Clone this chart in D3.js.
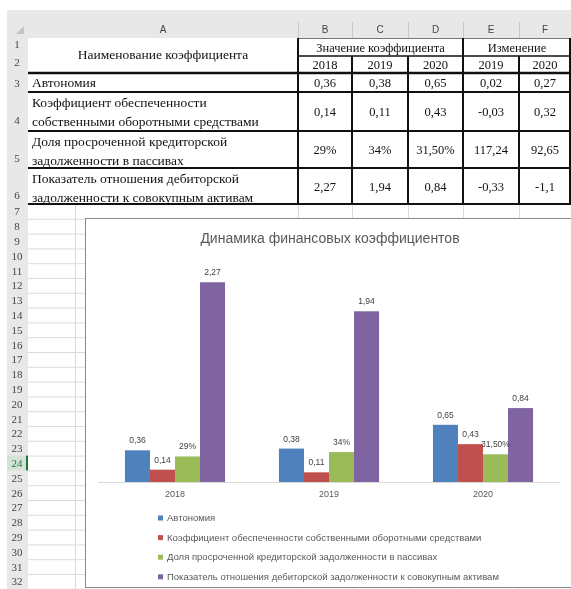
<!DOCTYPE html>
<html><head><meta charset="utf-8">
<script src="https://cdn.jsdelivr.net/npm/d3@7"></script>
<style>html,body{margin:0;padding:0;background:#fff;}svg{display:block;filter:blur(0.4px);}</style>
</head><body>
<svg id="c" width="571" height="589"></svg>
<script>
// ---------- data ----------
const years = ["2018", "2019", "2020"];
const changeYears = ["2019", "2020"];
const seriesNames = [
  "Автономия",
  "Коэффициент обеспеченности собственными оборотными средствами",
  "Доля просроченной кредиторской задолженности в пассивах",
  "Показатель отношения дебиторской задолженности к совокупным активам"
];
const tableNameLines = [
  ["Автономия"],
  ["Коэффициент обеспеченности", "собственными оборотными средствами"],
  ["Доля просроченной кредиторской", "задолженности в пассивах"],
  ["Показатель отношения дебиторской", "задолженности к совокупным активам"]
];
const autonomy = [0.36, 0.38, 0.65];
const ownWorkingCapital = [0.14, 0.11, 0.43];
const overduePayables = [0.29, 0.34, 0.315];
const receivablesToAssets = [2.27, 1.94, 0.84];
const autonomyLabels = ["0,36", "0,38", "0,65"];
const ownWorkingCapitalLabels = ["0,14", "0,11", "0,43"];
const overduePayablesLabels = ["29%", "34%", "31,50%"];
const receivablesToAssetsLabels = ["2,27", "1,94", "0,84"];
const autonomyChange = ["0,02", "0,27"];
const ownWorkingCapitalChange = ["-0,03", "0,32"];
const overduePayablesChange = ["117,24", "92,65"];
const receivablesToAssetsChange = ["-0,33", "-1,1"];
const columnLetters = ["A", "B", "C", "D", "E", "F"];
const chartTitle = "Динамика финансовых коэффициентов";
const tableHeader = "Наименование коэффициента";
const valueHeader = "Значение коэффициента";
const changeHeader = "Изменение";
const colors = ["#4F81BD", "#C0504D", "#9BBB59", "#8064A2"];

const seriesValues = [autonomy, ownWorkingCapital, overduePayables, receivablesToAssets];
const seriesLabels = [autonomyLabels, ownWorkingCapitalLabels, overduePayablesLabels, receivablesToAssetsLabels];
const seriesChanges = [autonomyChange, ownWorkingCapitalChange, overduePayablesChange, receivablesToAssetsChange];

// ---------- layout ----------
const svg = d3.select("#c");
const W = 571, H = 589;
const colX = [28, 298, 352, 408, 463, 519, 571];
const rowY = [38, 56, 73, 92, 131, 168, 204];
const rowH = 14.8;
const serif = "'Liberation Serif','Times New Roman',serif";
const sans = "'Liberation Sans',Arial,sans-serif";

svg.append("rect").attr("width", W).attr("height", H).attr("fill", "#fff");

// faint sheet gridlines for rows 7..32
const g0 = svg.append("g").attr("stroke", "#dcdcdc").attr("stroke-width", 1);
for (let i = 0; i <= 26; i++) {
  const yy = rowY[6] + i * rowH;
  g0.append("line").attr("x1", 28).attr("x2", W).attr("y1", yy + 0.5).attr("y2", yy + 0.5);
}
colX.slice(1, 6).forEach(x => g0.append("line").attr("x1", x + 0.5).attr("x2", x + 0.5).attr("y1", rowY[6]).attr("y2", H));
g0.append("line").attr("x1", 75.5).attr("x2", 75.5).attr("y1", rowY[6]).attr("y2", H);

// column header band
svg.append("rect").attr("x", 7).attr("y", 10).attr("width", W - 7).attr("height", 28).attr("fill", "#e8e8e8");
svg.append("rect").attr("x", 7).attr("y", 10).attr("width", 21).attr("height", H - 10).attr("fill", "#e8e8e8");
const hdr = svg.append("g");
colX.slice(0, 6).forEach((x, i) => {
  hdr.append("text").attr("x", (x + colX[i + 1]) / 2).attr("y", 33)
    .attr("text-anchor", "middle").attr("font-family", sans).attr("font-size", 10).attr("fill", "#444")
    .text(columnLetters[i]);
  if (i > 0) hdr.append("line").attr("x1", x + 0.5).attr("x2", x + 0.5).attr("y1", 22).attr("y2", 38).attr("stroke", "#c8c8c8");
});
svg.append("path").attr("d", "M24,34 L24,26 L16,34 Z").attr("fill", "#c4c4c4");

// row numbers
const rowNumY = [48, 66, 87, 124, 162, 199];
rowNumY.forEach((yy, i) => {
  svg.append("text").attr("x", 17).attr("y", yy).attr("text-anchor", "middle")
    .attr("font-family", serif).attr("font-size", 11).attr("fill", "#444").text(i + 1);
});
for (let r = 7; r <= 32; r++) {
  const top = rowY[6] + (r - 7) * rowH;
  if (r === 24) {
    svg.append("rect").attr("x", 7).attr("y", top).attr("width", 21).attr("height", rowH).attr("fill", "#d2e3d6");
    svg.append("rect").attr("x", 26).attr("y", top).attr("width", 2).attr("height", rowH).attr("fill", "#217346");
  }
  svg.append("text").attr("x", 17).attr("y", top + rowH / 2 + 4).attr("text-anchor", "middle")
    .attr("font-family", serif).attr("font-size", 11).attr("fill", r === 24 ? "#217346" : "#444").text(r);
}

// ---------- table ----------
const t = svg.append("g").attr("font-family", serif).attr("font-size", 13.5).attr("fill", "#111");
t.append("text").attr("x", (colX[0] + colX[1]) / 2).attr("y", 59).attr("text-anchor", "middle").text(tableHeader);
t.append("text").attr("x", (colX[1] + colX[4]) / 2).attr("y", 51.5).attr("text-anchor", "middle").attr("font-size", 12.5).text(valueHeader);
t.append("text").attr("x", (colX[4] + colX[6]) / 2).attr("y", 51.5).attr("text-anchor", "middle").attr("font-size", 12.5).text(changeHeader);
years.concat(changeYears).forEach((yr, i) => {
  t.append("text").attr("x", (colX[i + 1] + colX[i + 2]) / 2).attr("y", 69).attr("text-anchor", "middle").attr("font-size", 12.5).text(yr);
});
seriesNames.forEach((name, r) => {
  const top = rowY[r + 2], bot = rowY[r + 3], mid = (top + bot) / 2;
  const lines = tableNameLines[r];
  lines.forEach((ln, k) => {
    const yy = lines.length === 1 ? mid + 4.5 : top + 15 + k * 18.5;
    t.append("text").attr("x", 32).attr("y", yy).text(ln);
  });
  seriesLabels[r].concat(seriesChanges[r]).forEach((v, i) => {
    t.append("text").attr("x", (colX[i + 1] + colX[i + 2]) / 2).attr("y", mid + 4.5).attr("text-anchor", "middle").attr("font-size", 12.5).text(v);
  });
});
const b = svg.append("g").attr("stroke", "#111");
[73, 92, 131, 168, 204].forEach(yy => b.append("line").attr("x1", 28).attr("x2", W).attr("y1", yy).attr("y2", yy).attr("stroke-width", yy === 73 ? 2.5 : 2));
b.append("line").attr("x1", colX[1]).attr("x2", W).attr("y1", 56).attr("y2", 56).attr("stroke-width", 1.5);
b.append("line").attr("x1", colX[1]).attr("x2", W).attr("y1", 38.5).attr("y2", 38.5).attr("stroke-width", 1).attr("stroke", "#777");
[colX[1], colX[4], 570].forEach(x => b.append("line").attr("x1", x).attr("x2", x).attr("y1", 38).attr("y2", 205).attr("stroke-width", 2));
[colX[2], colX[3], colX[5]].forEach(x => b.append("line").attr("x1", x).attr("x2", x).attr("y1", 56).attr("y2", 205).attr("stroke-width", 2));

// ---------- chart ----------
const chart = svg.append("g");
chart.append("rect").attr("x", 85.5).attr("y", 218.5).attr("width", 500).attr("height", 369)
  .attr("fill", "#fff").attr("stroke", "#8a8a8a").attr("stroke-width", 1);
chart.append("text").attr("x", 330).attr("y", 243).attr("text-anchor", "middle")
  .attr("font-family", sans).attr("font-size", 14).attr("fill", "#595959").text(chartTitle);

const x0 = d3.scaleBand().domain(years).range([98, 560]).paddingInner(0.35).paddingOuter(0.175);
const x1 = d3.scaleBand().domain(d3.range(seriesNames.length)).range([0, x0.bandwidth()]);
const y = d3.scaleLinear().domain([0, 2.5]).range([482, 262]);

const xAxis = d3.axisBottom(x0).tickSize(0).tickPadding(9);
const ax = chart.append("g").attr("transform", "translate(0,482)").call(xAxis);
ax.select(".domain").attr("stroke", "#d9d9d9").attr("d", "M98,0.5H560");
ax.selectAll("text").attr("font-family", sans).attr("font-size", 9).attr("fill", "#595959");

seriesNames.forEach((name, s) => {
  const gs = chart.append("g");
  gs.selectAll("rect").data(years).enter().append("rect")
    .attr("x", d => x0(d) + x1(s)).attr("width", x1.bandwidth())
    .attr("y", (d, i) => y(seriesValues[s][i])).attr("height", (d, i) => y(0) - y(seriesValues[s][i]))
    .attr("fill", colors[s]);
});
seriesNames.forEach((name, s) => {
  chart.append("g").selectAll("text").data(years).enter().append("text")
    .attr("x", d => x0(d) + x1(s) + x1.bandwidth() / 2)
    .attr("y", (d, i) => y(seriesValues[s][i]) - 7)
    .attr("text-anchor", "middle").attr("font-family", sans).attr("font-size", 8.5).attr("fill", "#404040")
    .text((d, i) => seriesLabels[s][i]);
});

// legend
const lg = chart.append("g");
seriesNames.forEach((name, s) => {
  const ly = 518 + s * 19.6;
  lg.append("rect").attr("x", 158).attr("y", ly - 2.5).attr("width", 5).attr("height", 5).attr("fill", colors[s]);
  lg.append("text").attr("x", 167).attr("y", ly + 3).attr("font-family", sans).attr("font-size", 9.5)
    .attr("fill", "#595959").text(name);
});
</script>
</body></html>
